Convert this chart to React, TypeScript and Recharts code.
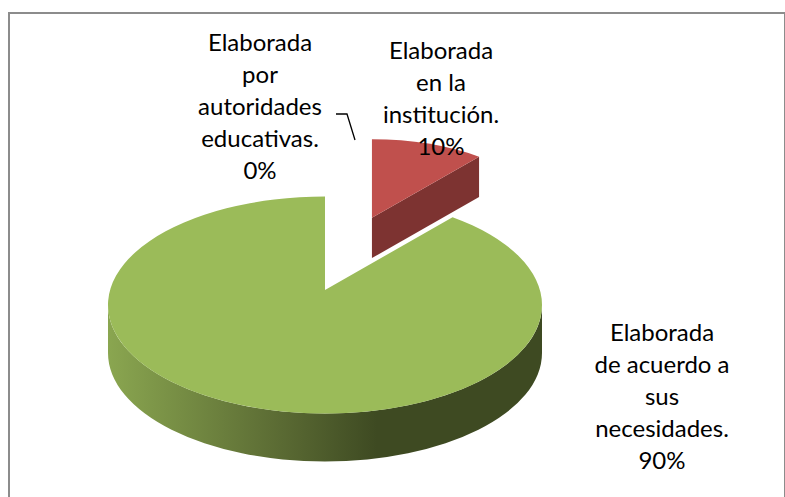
import React from 'react';
import { PieChart, Pie } from 'recharts';

// data, in the order Excel draws them (clockwise from 12 o'clock)
const categories = [
  'Elaborada por autoridades educativas.',
  'Elaborada en la institución.',
  'Elaborada de acuerdo a sus necesidades.',
];
const percents = [0, 10, 90];
const labelLines = [
  ['Elaborada', 'por', 'autoridades', 'educativas.'],
  ['Elaborada', 'en la', 'institución.'],
  ['Elaborada', 'de acuerdo a', 'sus', 'necesidades.'],
];
const exploded = [false, true, false];

const topColors = ['#4f81bd', '#c0504d', '#9bbb59'];
const cutColors = ['#2c4d75', '#7d3331', '#5d7034'];
const wallLight = ['#4a78b0', '#a84542', '#8aa650'];
const wallDark = ['#26415f', '#6e2c2a', '#3e4a22'];

const W = 785;
const H = 497;
const CX = 325;
const CY = 305;
const RX = 217;
const SQUASH = 0.5;
const APEX_DY = -15;
const DEPTH = 48;
const EXPLODE = 0.7;
const FAR_SCALE = 0.84;
const LINE_H = 32;
const LABEL_POS = [
  { x: 260, y: 51 },
  { x: 441, y: 59 },
  { x: 662, y: 341 },
];
const LEADER = '336,114 347,114 355,140';

const data = categories.map((name, i) => ({
  name,
  value: percents[i],
  fill: topColors[i],
  idx: i,
}));

const rad = (a: number) => (a * Math.PI) / 180;

function Slice3D(props: any) {
  const { cx, cy, outerRadius, startAngle, endAngle } = props;
  const i = props.payload?.idx ?? props.idx ?? props.index ?? 0;
  if (Math.abs(startAngle - endAngle) < 0.01) return <g />;
  const rx = outerRadius;
  const ry = outerRadius * SQUASH;
  const ax = cx;
  const ay = cy + APEX_DY;
  const P = (a: number, dz = 0) => [cx + rx * Math.cos(rad(a)), cy - ry * Math.sin(rad(a)) + dz];
  const arc = (a: number, b: number, dz = 0) => {
    const [x, y] = P(b, dz);
    const large = Math.abs(a - b) > 180 ? 1 : 0;
    const sweep = a > b ? 1 : 0;
    return `A ${rx} ${ry} 0 ${large} ${sweep} ${x} ${y}`;
  };
  const hi = Math.max(startAngle, endAngle);
  const lo = Math.min(startAngle, endAngle);

  // front wall: parts of the arc facing the viewer
  const walls: string[] = [];
  [[-540, -360], [-180, 0], [180, 360]].forEach(([a, b]) => {
    const s = Math.max(lo, a);
    const e = Math.min(hi, b);
    if (e - s > 0.01) {
      const [x1, y1] = P(s);
      const [x2, y2] = P(e, DEPTH);
      walls.push(`M ${x1} ${y1} ${arc(s, e)} L ${x2} ${y2} ${arc(e, s, DEPTH)} Z`);
    }
  });

  // cut faces along the radial edges
  const cuts: string[] = [];
  [
    [hi, hi + 90],
    [lo, lo - 90],
  ].forEach(([t, n]) => {
    if (Math.sin(rad(n)) < -0.01) {
      const [x, y] = P(t);
      cuts.push(`M ${ax} ${ay} L ${x} ${y} L ${x} ${y + DEPTH} L ${ax} ${ay + DEPTH} Z`);
    }
  });

  const [sx, sy] = P(hi);
  const top = `M ${ax} ${ay} L ${sx} ${sy} ${arc(hi, lo)} Z`;

  let transform;
  if (exploded[i]) {
    const mid = (hi + lo) / 2;
    const dx = EXPLODE * rx * Math.cos(rad(mid));
    const dy = -EXPLODE * ry * Math.sin(rad(mid));
    transform = `translate(${ax + dx} ${ay + dy}) scale(${FAR_SCALE}) translate(${-ax} ${-ay})`;
  }
  const gid = `wall-${i}`;
  return (
    <g transform={transform}>
      <defs>
        <linearGradient id={gid} x1="0" y1="0" x2="1" y2="0">
          <stop offset="0%" stopColor={wallLight[i]} />
          <stop offset="40%" stopColor="#5a6a33" stopOpacity={i === 2 ? 1 : 0} />
          <stop offset="62%" stopColor={wallDark[i]} />
          <stop offset="100%" stopColor={wallDark[i]} />
        </linearGradient>
      </defs>
      {walls.map((d, k) => (
        <path key={`w${k}`} d={d} fill={`url(#${gid})`} />
      ))}
      {cuts.map((d, k) => (
        <path key={`c${k}`} d={d} fill={cutColors[i]} />
      ))}
      <path d={top} fill={topColors[i]} />
    </g>
  );
}

function SliceLabel(props: any) {
  const i = props.index ?? props.payload?.idx ?? 0;
  const pos = LABEL_POS[i];
  const lines = [...labelLines[i], `${percents[i]}%`];
  return (
    <g>
      {percents[i] === 0 && <polyline points={LEADER} fill="none" stroke="#000" strokeWidth={1.3} />}
      <text x={pos.x} y={pos.y} textAnchor="middle" fontFamily="Lato, 'Open Sans', sans-serif" fontSize={24} fill="#000">
        {lines.map((l, k) => (
          <tspan key={k} x={pos.x} dy={k === 0 ? 0 : LINE_H}>
            {l}
          </tspan>
        ))}
      </text>
    </g>
  );
}

export default function App() {
  return (
    <div style={{ position: 'absolute', left: 0, top: 0, width: W, height: H, overflow: 'hidden', background: '#fff' }}>
      <div
        style={{
          position: 'absolute',
          left: 8,
          top: 12,
          width: 774,
          height: 520,
          border: '2px solid #8c8c8c',
        }}
      />
      <PieChart
        width={W}
        height={H}
        margin={{ top: 0, right: 0, bottom: 0, left: 0 }}
        style={{ position: 'absolute', left: 0, top: 0 }}
      >
        <Pie
          data={data}
          dataKey="value"
          nameKey="name"
          cx={CX}
          cy={CY}
          outerRadius={RX}
          startAngle={90}
          endAngle={-270}
          stroke="none"
          shape={Slice3D}
          activeShape={Slice3D}
          inactiveShape={Slice3D}
          label={SliceLabel}
          labelLine={false}
          isAnimationActive={false}
        />
      </PieChart>
    </div>
  );
}
